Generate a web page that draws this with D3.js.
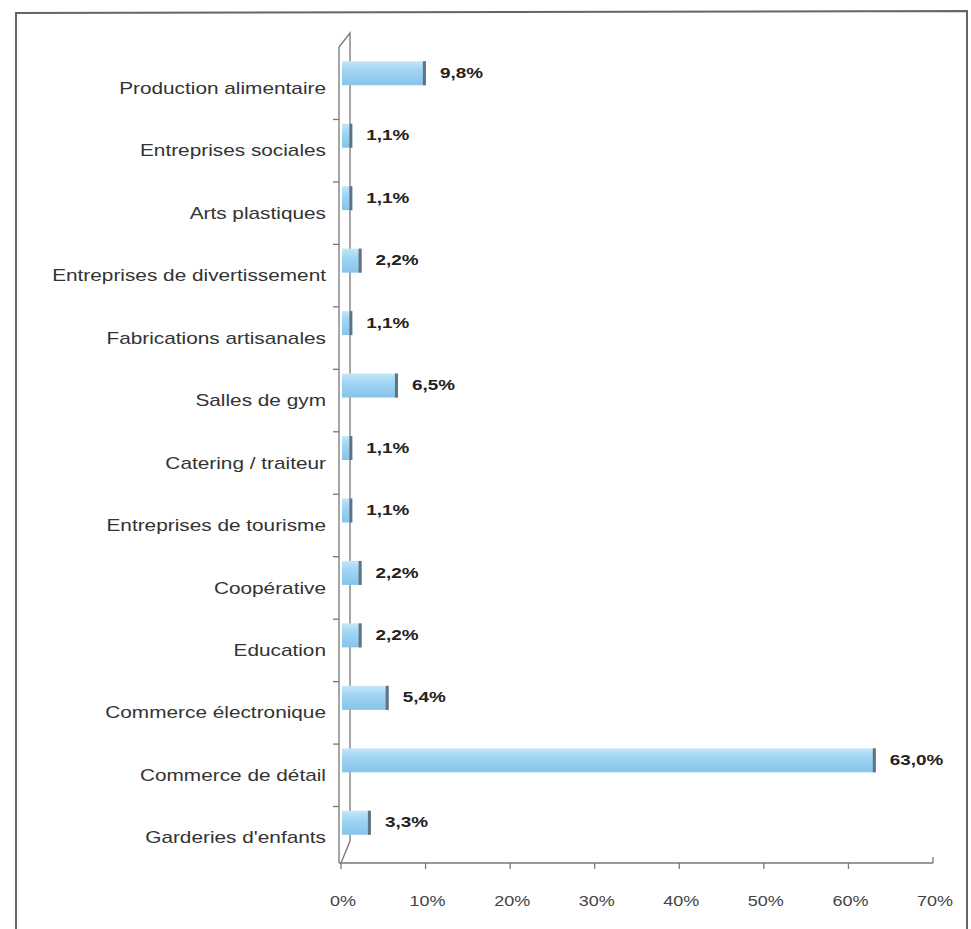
<!DOCTYPE html>
<html>
<head>
<meta charset="utf-8">
<script src="https://cdn.jsdelivr.net/npm/d3@7"></script>
<style>
  body { margin: 0; background: #fff; }
  svg { display: block; }
</style>
</head>
<body>
<div id="chart"></div>
<script>
// data (top to bottom)
const categories = [
  "Production alimentaire", "Entreprises sociales", "Arts plastiques",
  "Entreprises de divertissement", "Fabrications artisanales", "Salles de gym",
  "Catering / traiteur", "Entreprises de tourisme", "Coopérative", "Education",
  "Commerce électronique", "Commerce de détail", "Garderies d'enfants"
];
const values = [9.8, 1.1, 1.1, 2.2, 1.1, 6.5, 1.1, 1.1, 2.2, 2.2, 5.4, 63.0, 3.3];
const valueLabels = ["9,8%", "1,1%", "1,1%", "2,2%", "1,1%", "6,5%", "1,1%", "1,1%", "2,2%", "2,2%", "5,4%", "63,0%", "3,3%"];
const xTicks = [0, 10, 20, 30, 40, 50, 60, 70];

const W = 971, H = 929;
const font = "'Liberation Sans', Arial, sans-serif";
const stretch = 1.3; // scanned text is wider than it is tall

const svg = d3.select("#chart").append("svg")
  .attr("width", W).attr("height", H);

const defs = svg.append("defs");
const grad = defs.append("linearGradient").attr("id", "barGrad")
  .attr("x1", 0).attr("y1", 0).attr("x2", 0).attr("y2", 1);
grad.append("stop").attr("offset", "0%").attr("stop-color", "#c6e6f9");
grad.append("stop").attr("offset", "35%").attr("stop-color", "#a2d6f4");
grad.append("stop").attr("offset", "100%").attr("stop-color", "#86c4ea");

// frame (scanned page, no bottom edge)
svg.append("path")
  .attr("d", "M16,929 L16,13 L967,11 L967,929")
  .attr("fill", "none").attr("stroke", "#666").attr("stroke-width", 2);

const x = d3.scaleLinear().domain([0, 70]).range([341, 933]);
const y = d3.scaleBand().domain(categories).range([57, 869]);

const frontX = 339, backX = 350, floorY = 863, backFloorY = 841, topFront = 47, topBack = 33;

// 3d walls
const axisG = svg.append("g").attr("stroke", "#777").attr("fill", "none").attr("stroke-width", 1.3);
axisG.append("path")
  .attr("d", `M${frontX},${floorY} L${frontX},${topFront} L${backX},${topBack} L${backX},${backFloorY} L${frontX + 2},${floorY}`);
axisG.append("line")
  .attr("x1", frontX).attr("x2", x(70)).attr("y1", floorY).attr("y2", floorY);

// category ticks on the front wall
axisG.selectAll("line.ct")
  .data(categories.slice(1))
  .join("line").attr("class", "ct")
  .attr("x1", frontX - 6).attr("x2", frontX)
  .attr("y1", d => y(d)).attr("y2", d => y(d));

// x ticks
axisG.selectAll("line.xt")
  .data(xTicks)
  .join("line").attr("class", "xt")
  .attr("x1", d => x(d)).attr("x2", d => x(d))
  .attr("y1", d => d === 70 ? floorY - 6 : floorY)
  .attr("y2", d => d === 70 ? floorY : floorY + 6);

svg.append("g").selectAll("text")
  .data(xTicks)
  .join("text")
  .attr("transform", d => `translate(${x(d) + 2},901) scale(1.2,1)`)
  .attr("text-anchor", "middle").attr("dominant-baseline", "central")
  .attr("font-family", font).attr("font-size", 15).attr("fill", "#444")
  .text(d => d + "%");

// category labels
svg.append("g").selectAll("text")
  .data(categories)
  .join("text")
  .attr("transform", d => `translate(326,${y(d) + y.bandwidth() / 2}) scale(${stretch},1)`)
  .attr("text-anchor", "end").attr("dominant-baseline", "central")
  .attr("font-family", font).attr("font-size", 16).attr("fill", "#333")
  .text(d => d);

// bars
const barH = 24, lift = 15;
const bars = svg.append("g").selectAll("g")
  .data(categories.map((c, i) => ({ c, v: values[i], lab: valueLabels[i] })))
  .join("g");

bars.append("rect")
  .attr("x", x(0) + 1)
  .attr("y", d => y(d.c) + y.bandwidth() / 2 - lift - barH / 2)
  .attr("width", d => x(d.v) - x(0) + 1)
  .attr("height", barH)
  .attr("fill", "url(#barGrad)");

bars.append("rect")
  .attr("x", d => x(d.v) - 1)
  .attr("y", d => y(d.c) + y.bandwidth() / 2 - lift - barH / 2)
  .attr("width", 3)
  .attr("height", barH)
  .attr("fill", "#5f7382");

bars.append("text")
  .attr("transform", d => `translate(${x(d.v) + 16},${y(d.c) + y.bandwidth() / 2 - lift}) scale(1.35,1)`)
  .attr("dominant-baseline", "central")
  .attr("font-family", font).attr("font-size", 14).attr("font-weight", "bold")
  .attr("fill", "#222")
  .text(d => d.lab);
</script>
</body>
</html>
